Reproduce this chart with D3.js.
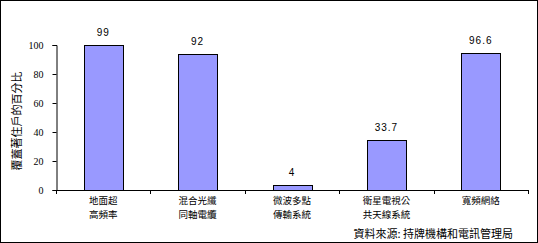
<!DOCTYPE html>
<html>
<head>
<meta charset="utf-8">
<script src="https://cdn.jsdelivr.net/npm/d3@7"></script>
<style>
  html, body { margin: 0; padding: 0; background: #fff; }
  svg { display: block; }
</style>
</head>
<body>
<svg id="chart" width="538" height="243"></svg>
<script>
// ── data ──
var categories = [
  ['地面超', '高頻率'],
  ['混合光纖', '同軸電纜'],
  ['微波多點', '傳輸系統'],
  ['衛星電視公', '共天線系統'],
  ['寬頻網絡']
];
// bar heights as drawn in the picture
var barValues = [100, 93.8, 3.2, 34.3, 94.3];
// value labels printed above the bars
var valueLabels = ['99', '92', '4', '33.7', '96.6'];
var yTicks = [0, 20, 40, 60, 80, 100];
var yTitle = '覆蓋著住戶的百分比';
var sourceNote = '資料來源: 持牌機構和電訊管理局';

(function () {
  var svg = d3.select('#chart');
  var W = 538, H = 243;
  var left = 56, right = 528, top = 45, bottom = 190;

  // outer frame
  svg.append('rect').attr('x', 0.5).attr('y', 0.5).attr('width', W - 1).attr('height', H - 1)
    .attr('fill', '#fff').attr('stroke', '#000').attr('stroke-width', 1);

  var x = d3.scaleBand().domain(d3.range(categories.length)).range([left, right])
    .paddingInner(0.587).paddingOuter(0.2935);
  var y = d3.scaleLinear().domain([0, 100]).range([bottom, top]);

  // y axis
  var yAxis = d3.axisLeft(y).tickValues(yTicks).tickSize(4).tickPadding(9);
  var gy = svg.append('g').attr('transform', 'translate(' + (left + 0.5) + ',0)').call(yAxis);
  gy.select('.domain').attr('stroke', '#000');
  gy.selectAll('.tick line').attr('stroke', '#000');
  gy.selectAll('.tick text').attr('fill', '#000')
    .style('font-family', '"Liberation Serif", serif').style('font-size', '10px');

  // bars
  svg.append('g').selectAll('rect').data(barValues).join('rect')
    .attr('x', function (d, i) { return Math.round(x(i)) + 0.5; })
    .attr('y', function (d) { return Math.round(y(d)) + 0.5; })
    .attr('width', Math.round(x.bandwidth()))
    .attr('height', function (d) { return Math.round(y(0)) - Math.round(y(d)); })
    .attr('fill', '#9999FF').attr('stroke', '#000').attr('stroke-width', 1);

  // value labels
  svg.append('g').selectAll('text').data(barValues).join('text')
    .attr('x', function (d, i) { return x(i) + x.bandwidth() / 2; })
    .attr('y', function (d) { return y(d) - 9; })
    .attr('text-anchor', 'middle')
    .style('font-family', '"Liberation Sans", Arial, sans-serif').style('font-size', '10px')
    .style('letter-spacing', '1px')
    .text(function (d, i) { return valueLabels[i]; });

  // x axis line + boundary ticks
  var step = x.step();
  svg.append('line').attr('x1', left).attr('x2', right).attr('y1', bottom + 0.5).attr('y2', bottom + 0.5)
    .attr('stroke', '#000');
  svg.append('g').selectAll('line').data(d3.range(categories.length + 1)).join('line')
    .attr('x1', function (i) { return Math.round(left + i * step) + 0.5; })
    .attr('x2', function (i) { return Math.round(left + i * step) + 0.5; })
    .attr('y1', bottom).attr('y2', bottom + 4).attr('stroke', '#000');

  // category labels, one text per line
  var lines = [];
  categories.forEach(function (c, i) {
    c.forEach(function (s, j) { lines.push({ s: s, i: i, j: j }); });
  });
  svg.append('g').selectAll('text').data(lines).join('text')
    .attr('x', function (d) { return x(d.i) + x.bandwidth() / 2; })
    .attr('y', function (d) { return 204 + d.j * 14; })
    .attr('text-anchor', 'middle')
    .style('font-family', '"Noto Sans CJK TC", sans-serif').style('font-size', '9.5px')
    .text(function (d) { return d.s; });

  // y title
  svg.append('text').attr('transform', 'translate(21,121) rotate(-90)')
    .attr('text-anchor', 'middle')
    .style('font-family', '"Noto Sans CJK TC", sans-serif').style('font-size', '11px')
    .text(yTitle);

  // source
  svg.append('text').attr('x', 513).attr('y', 238).attr('text-anchor', 'end')
    .style('font-family', '"Noto Sans CJK TC", sans-serif').style('font-size', '11px')
    .text(sourceNote);
})();
</script>
</body>
</html>
